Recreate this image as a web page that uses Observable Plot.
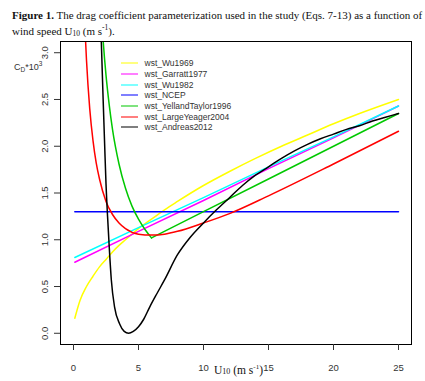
<!DOCTYPE html>
<html>
<head>
<meta charset="utf-8">
<script src="https://cdn.jsdelivr.net/npm/d3@7"></script>
<script src="https://cdn.jsdelivr.net/npm/@observablehq/plot@0.6"></script>
<style>
  html, body { margin: 0; padding: 0; background: #fff; }
  #wrap { position: relative; width: 425px; height: 381px; overflow: hidden; }
  #title { position: absolute; left: 12px; top: 8px; font-family: "Liberation Serif", "Times New Roman", serif; font-size: 11px; line-height: 15.7px; color: #111; white-space: nowrap; }
  #title sub, #title sup { font-size: 7.5px; line-height: 0; }
  #title sub { vertical-align: -1px; }
  #xlab { position: absolute; left: 214px; top: 363px; font-family: "Liberation Serif", "Times New Roman", serif; font-size: 11.5px; color: #111; white-space: nowrap; }
  #xlab .sb { font-size: 8px; vertical-align: 0px; }
  #xlab .sp { font-size: 7px; vertical-align: 5px; }
  #ylab { position: absolute; left: 14px; top: 60px; font-family: "Liberation Sans", Arial, sans-serif; font-size: 9px; color: #333; white-space: nowrap; }
  #ylab .sb { font-size: 6.5px; vertical-align: -2px; }
  #ylab .sp { font-size: 6.5px; vertical-align: 4px; }
  #legend { position: absolute; left: 121px; top: 58px; font-family: "Liberation Sans", Arial, sans-serif; font-size: 8.5px; color: #333; }
  #legend .row { height: 10.7px; display: flex; align-items: center; }
  #legend .sw { width: 17px; height: 0; border-top: 2px solid; opacity: 0.5; margin-right: 6.5px; }
  svg { position: absolute; left: 0; top: 0; }
</style>
</head>
<body>
<div id="wrap">
  <div id="title"><b>Figure 1.</b> The drag coefficient parameterization used in the study (Eqs. 7-13) as a function of<br>wind speed U<sub>10</sub> (m s<sup>-1</sup>).</div>
  <div id="ylab">C<span class="sb">D</span>*10<span class="sp">3</span></div>
  <div id="xlab">U<span class="sb">10</span> (m s<span class="sp">-1</span>)</div>
  <div id="legend"></div>
</div>
<script>
// ---- data ----
const seriesNames = ["wst_Wu1969","wst_Garratt1977","wst_Wu1982","wst_NCEP","wst_YellandTaylor1996","wst_LargeYeager2004","wst_Andreas2012"];
const seriesColors = ["#ffff00","#ff00ff","#00ffff","#0000ff","#00c800","#ff0000","#000000"];

const xTicks = [0, 5, 10, 15, 20, 25];
const yTicks = [0, 0.5, 1, 1.5, 2, 2.5, 3];

const uWu1969  = [0.1,0.5,1,1.5,2,2.5,3,3.5,4,5,6,7,8,10,12,14,16,18,20,22,25];
const cdWu1969 = [0.16,0.35,0.50,0.61,0.71,0.79,0.87,0.94,1.00,1.12,1.22,1.32,1.41,1.58,1.73,1.87,2.00,2.12,2.24,2.35,2.50];

const uGarratt  = [0.1,5,10,15,20,25];
const cdGarratt = [0.76,1.09,1.42,1.76,2.09,2.43];

const uWu1982  = [0.1,5,10,15,20,25];
const cdWu1982 = [0.81,1.13,1.45,1.78,2.10,2.43];

const uNCEP  = [0.1,25];
const cdNCEP = [1.30,1.30];

const uYellandLow  = [2.0,2.25,2.5,2.75,3,3.5,4,4.5,5,5.5,6];
const cdYellandLow = [3.77,3.19,2.76,2.44,2.18,1.81,1.55,1.36,1.22,1.11,1.02];
const uYellandHigh  = [6,10,15,20,25];
const cdYellandHigh = [1.02,1.30,1.65,2.00,2.35];

const uLarge  = [0.8,0.9,1,1.25,1.5,1.75,2,2.5,3,3.5,4,5,6,7,8,10,12,15,20,25];
const cdLarge = [3.58,3.21,2.92,2.40,2.06,1.82,1.65,1.41,1.27,1.18,1.12,1.06,1.05,1.06,1.09,1.18,1.28,1.47,1.81,2.16];

const uAndreas  = [2.05,2.14,2.28,2.40,2.50,2.62,2.75,2.91,3.16,3.55,3.90,4.24,4.60,5.00,5.40,5.86,6.40,7.00,8.00,9.00,10.0,11.0,12.0,13.0,14.0,15.0,16.0,17.0,18.0,19.0,20.0,21.0,22.0,23.0,24.0,25.0];
const cdAndreas = [3.60,3.12,2.50,2.00,1.60,1.25,0.92,0.57,0.28,0.10,0.02,0.00,0.02,0.07,0.15,0.28,0.42,0.57,0.84,1.03,1.18,1.32,1.45,1.58,1.69,1.78,1.87,1.95,2.02,2.08,2.13,2.18,2.22,2.27,2.31,2.35];

// ---- build tables ----
const zip = (us, cds) => us.map((u, i) => ({u, cd: cds[i]}));
const curves = [
  {data: zip(uWu1969, cdWu1969), color: seriesColors[0], curve: "monotone-x"},
  {data: zip(uGarratt, cdGarratt), color: seriesColors[1], curve: "linear"},
  {data: zip(uWu1982, cdWu1982), color: seriesColors[2], curve: "linear"},
  {data: zip(uNCEP, cdNCEP), color: seriesColors[3], curve: "linear"},
  {data: zip(uYellandLow, cdYellandLow), color: seriesColors[4], curve: "monotone-x"},
  {data: zip(uYellandHigh, cdYellandHigh), color: seriesColors[4], curve: "linear"},
  {data: zip(uLarge, cdLarge), color: seriesColors[5], curve: "monotone-x"},
  {data: zip(uAndreas, cdAndreas), color: seriesColors[6], curve: "monotone-x"}
];

const chart = Plot.plot({
  width: 425,
  height: 381,
  marginLeft: 60,
  marginRight: 14,
  marginTop: 41,
  marginBottom: 37,
  style: {background: "transparent", fontFamily: "'Liberation Sans', Arial, sans-serif", fontSize: "9.5px", color: "#333"},
  x: {domain: [-1, 26]},
  y: {domain: [-0.12, 3.12]},
  marks: [
    ...curves.map(c => Plot.line(c.data, {x: "u", y: "cd", stroke: c.color, strokeWidth: 1.5, curve: c.curve, clip: "frame"})),
    Plot.frame({stroke: "#000", strokeWidth: 1}),
    Plot.axisX({ticks: xTicks, tickSize: 6, tickPadding: 14, label: null, tickFormat: d => String(d), stroke: "#333"}),
    Plot.axisY({ticks: yTicks, tickSize: 6, label: null, tickFormat: () => "", stroke: "#333"}),
    Plot.text(yTicks, {y: d => d, text: d => d.toFixed(1), frameAnchor: "left", rotate: -90, textAnchor: "middle", lineAnchor: "bottom", dx: -13, fill: "#333", fontSize: 9.5})
  ]
});
document.getElementById("wrap").prepend(chart);

const legend = document.getElementById("legend");
seriesNames.forEach((name, i) => {
  const row = document.createElement("div");
  row.className = "row";
  const sw = document.createElement("span");
  sw.className = "sw";
  sw.style.borderTopColor = seriesColors[i];
  const t = document.createElement("span");
  t.textContent = name;
  row.append(sw, t);
  legend.append(row);
});
</script>
</body>
</html>
